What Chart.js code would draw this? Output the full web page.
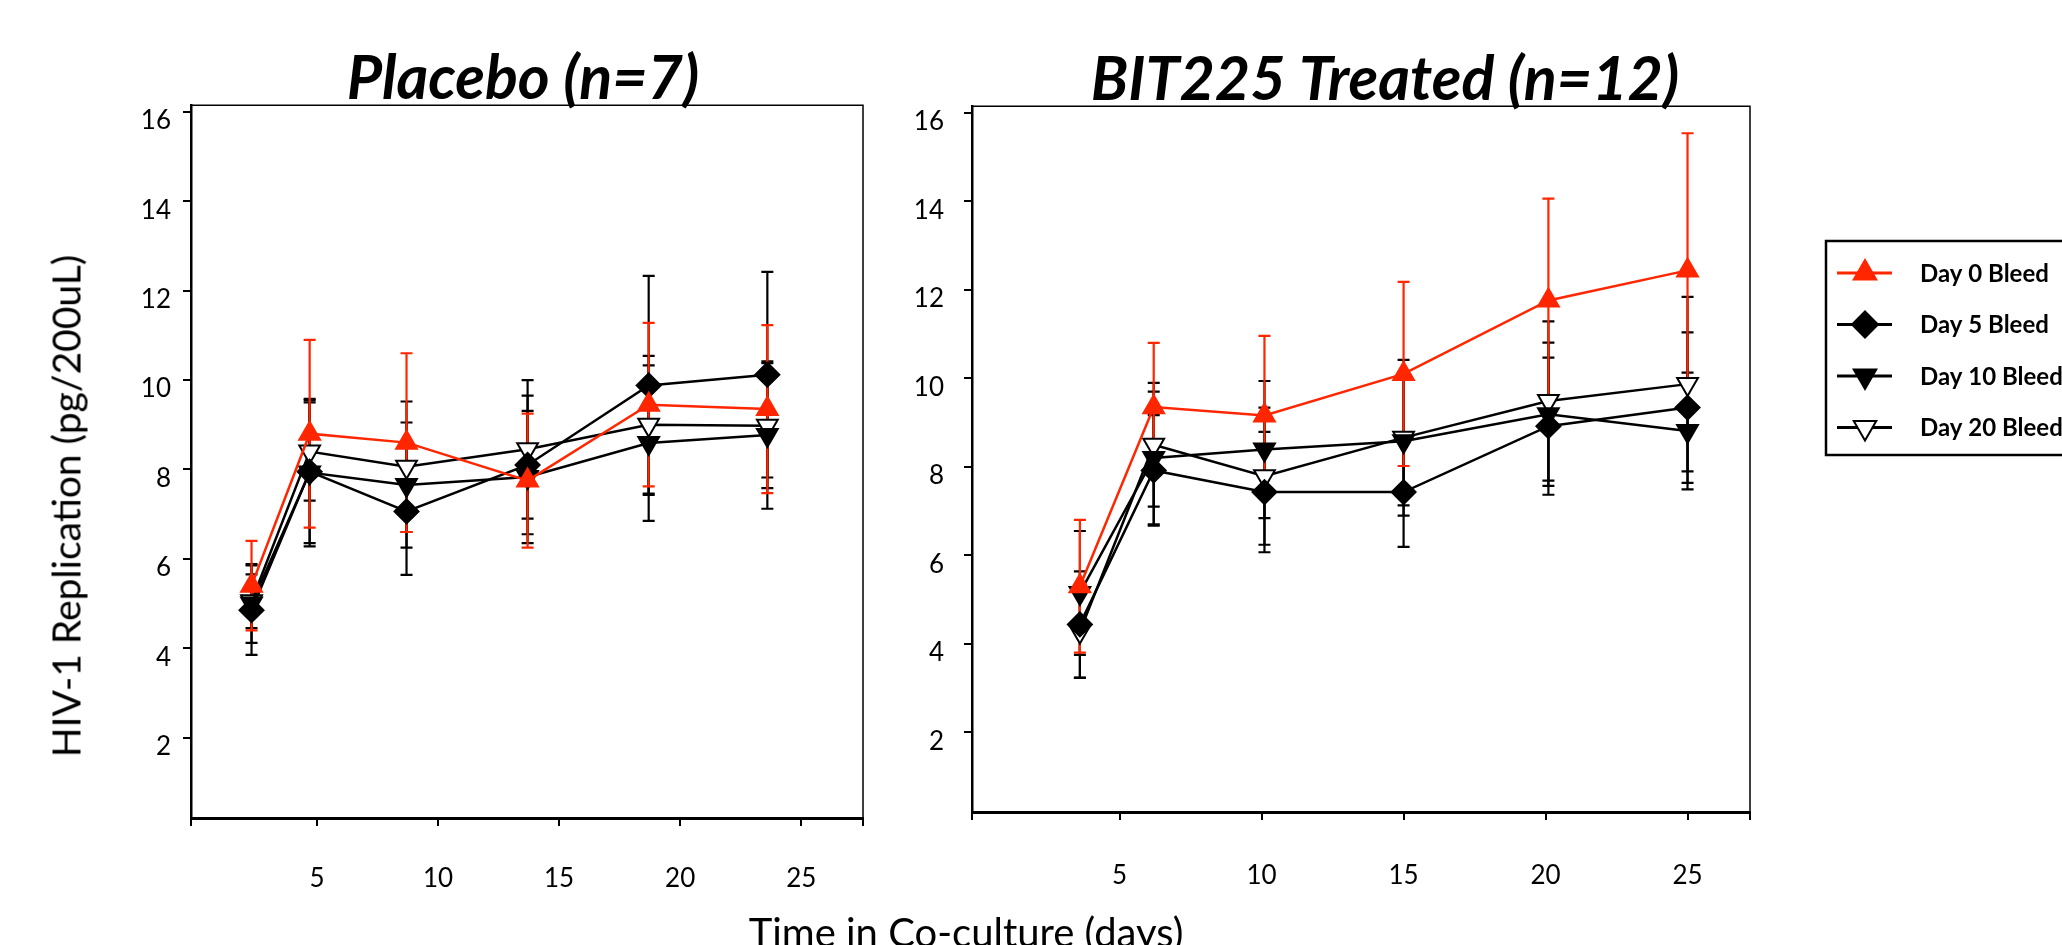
<!DOCTYPE html>
<html>
<head>
<meta charset="utf-8">
<title>HIV-1 Replication - Placebo vs BIT225</title>
<script src="https://cdn.jsdelivr.net/npm/chart.js@4/dist/chart.umd.min.js"></script>
<style>
    body { margin: 0; background: #fff; }
    #page { position: relative; width: 2062px; height: 945px; overflow: hidden; background: #fff; }
    canvas { position: absolute; top: 0; }
    #placeboChart { left: 0; }
    #treatedChart { left: 900px; }
    .axisTitle { position: absolute; font-family: Lato, sans-serif; color: #000; white-space: nowrap; line-height: 1; }
    #yTitle { left: 66px; top: 506px; font-size: 39px; transform: translate(-50%, -50%) rotate(-90deg); }
    #xTitle { left: 966px; top: 912px; font-size: 40px; transform: translateX(-50%); }
</style>
</head>
<body>
<div id="page">
    <canvas id="placeboChart" width="900" height="945"></canvas>
    <canvas id="treatedChart" width="1162" height="945"></canvas>
    <div id="yTitle" class="axisTitle">HIV-1 Replication (pg/200uL)</div>
    <div id="xTitle" class="axisTitle">Time in Co-culture (days)</div>
</div>
<script>
// Dias de co-cultivo de cada panel (eje x)
var placeboDays = [2.3, 4.7, 8.7, 13.7, 18.7, 23.6];
var treatedDays = [3.6, 6.2, 10.1, 15.0, 20.1, 25.0];

var seriesLabels = ['Day 0 Bleed', 'Day 5 Bleed', 'Day 10 Bleed', 'Day 20 Bleed'];

// Placebo (n=7): medias y error estandar
var placeboDay0 = [5.4, 8.8, 8.6, 7.75, 9.45, 9.35];
var placeboDay0Err = [1.0, 2.1, 2.0, 1.5, 1.83, 1.88];
var placeboDay5 = [4.85, 7.95, 7.06, 8.1, 9.88, 10.12];
var placeboDay5Err = [1.0, 1.6, 1.42, 1.55, 2.45, 2.3];
var placeboDay10 = [5.0, 7.93, 7.65, 7.83, 8.59, 8.77];
var placeboDay10Err = [0.88, 1.65, 1.4, 1.48, 1.74, 1.65];
var placeboDay20 = [5.05, 8.4, 8.06, 8.45, 9.0, 8.98];
var placeboDay20Err = [0.6, 1.1, 1.46, 1.55, 1.54, 1.4];

// BIT225 (n=12): medias y error estandar
var treatedDay0 = [5.3, 9.35, 9.16, 10.1, 11.76, 12.44];
var treatedDay0Err = [1.5, 1.45, 1.8, 2.08, 2.3, 3.1];
var treatedDay5 = [4.44, 7.92, 7.43, 7.43, 8.92, 9.34];
var treatedDay5Err = [1.2, 1.25, 1.36, 1.24, 1.55, 1.7];
var treatedDay10 = [5.15, 8.2, 8.39, 8.58, 9.19, 8.81];
var treatedDay10Err = [1.4, 1.5, 1.55, 1.45, 1.62, 1.32];
var treatedDay20 = [4.28, 8.5, 7.79, 8.66, 9.49, 9.87];
var treatedDay20Err = [1.05, 1.4, 1.55, 1.76, 1.8, 1.97];

// Etiquetas de los ejes y limites
var xTickLabels = [5, 10, 15, 20, 25];
var yTickLabels = [2, 4, 6, 8, 10, 12, 14, 16];
var placeboXRange = [-0.2, 27.55];
var treatedXRange = [-0.2, 27.2];
var yRange = [0.2, 16.15];

// Estilo de cada serie (color, marcador)
var seriesStyles = [
    { color: '#ff2600', fill: '#ff2600', shape: 'triangle', rotation: 0 },
    { color: '#000000', fill: '#000000', shape: 'rectRot', rotation: 0 },
    { color: '#000000', fill: '#000000', shape: 'triangle', rotation: 180 },
    { color: '#000000', fill: '#ffffff', shape: 'triangle', rotation: 180 }
];

// Construye los datasets de un panel
function buildDatasets(days, series, errors) {
    return series.map(function (values, s) {
        var st = seriesStyles[s];
        return {
            label: seriesLabels[s],
            data: days.map(function (d, i) { return { x: d, y: values[i] }; }),
            errors: errors[s],
            borderColor: st.color,
            borderWidth: 2.5,
            pointStyle: st.shape,
            pointRotation: st.rotation,
            pointRadius: 12,
            pointBackgroundColor: st.fill,
            pointBorderColor: st.color,
            pointBorderWidth: 2,
            tension: 0
        };
    });
}

// Escalas: rango x, ancho del eje y, alto del eje x y separacion de etiquetas
function buildScales(layout) {
    var xRange = layout.xRange;
    return {
        x: {
            type: 'linear',
            min: xRange[0],
            max: xRange[1],
            afterBuildTicks: function (scale) {
                scale.ticks = [xRange[0]].concat(xTickLabels, [xRange[1]]).map(function (v) { return { value: v }; });
            },
            afterFit: function (scale) { scale.height = layout.xHeight; },
            ticks: {
                callback: function (v) { return xTickLabels.indexOf(v) >= 0 ? String(v) : ''; },
                font: { family: 'Lato', size: 26 },
                color: '#000',
                padding: layout.xPad,
                maxRotation: 0,
                autoSkip: false
            },
            grid: { drawOnChartArea: false, color: '#000', lineWidth: 2, tickLength: 8 },
            border: { color: '#000', width: 3 }
        },
        y: {
            type: 'linear',
            min: yRange[0],
            max: yRange[1],
            afterBuildTicks: function (scale) {
                scale.ticks = yTickLabels.map(function (v) { return { value: v }; });
            },
            afterFit: function (scale) { scale.width = layout.yWidth; },
            ticks: {
                callback: function (v) { return String(v); },
                font: { family: 'Lato', size: 26 },
                color: '#000',
                padding: layout.yPad,
                labelOffset: 9,
                autoSkip: false
            },
            grid: { drawOnChartArea: false, color: '#000', lineWidth: 2, tickLength: 8 },
            border: { color: '#000', width: 2.5 }
        }
    };
}

// Plugin: marco fino y barras de error
var errorBarsPlugin = {
    id: 'errorBars',
    beforeDatasetsDraw: function (chart) {
        var ctx = chart.ctx;
        var area = chart.chartArea;
        var yScale = chart.scales.y;
        ctx.save();
        ctx.strokeStyle = '#000';
        ctx.lineWidth = 1.5;
        ctx.beginPath();
        ctx.moveTo(area.left, area.top);
        ctx.lineTo(area.right, area.top);
        ctx.lineTo(area.right, area.bottom);
        ctx.stroke();
        // de la ultima serie a la primera, asi el rojo queda encima
        for (var i = chart.data.datasets.length - 1; i >= 0; i--) {
            var ds = chart.data.datasets[i];
            var meta = chart.getDatasetMeta(i);
            ctx.strokeStyle = ds.borderColor;
            ctx.lineWidth = 2.2;
            meta.data.forEach(function (pt, j) {
                var v = ds.data[j].y;
                var e = ds.errors[j];
                var top = yScale.getPixelForValue(v + e);
                var bot = yScale.getPixelForValue(v - e);
                ctx.beginPath();
                ctx.moveTo(pt.x, top);
                ctx.lineTo(pt.x, bot);
                ctx.moveTo(pt.x - 6, top);
                ctx.lineTo(pt.x + 6, top);
                ctx.moveTo(pt.x - 6, bot);
                ctx.lineTo(pt.x + 6, bot);
                ctx.stroke();
            });
        }
        ctx.restore();
    }
};

// Plugin: desplaza el titulo en horizontal
var titleShiftPlugin = {
    id: 'titleShift',
    afterLayout: function (chart, args, opts) {
        var t = chart.titleBlock;
        if (t && opts.dx) {
            t.left += opts.dx;
            t.right += opts.dx;
        }
    }
};

// Dibuja un marcador igual al del dataset (para la leyenda)
function drawMarker(ctx, ds, x, y, r) {
    var rot = (ds.pointRotation || 0) * Math.PI / 180;
    ctx.beginPath();
    if (ds.pointStyle === 'rectRot') {
        ctx.moveTo(x, y - r);
        ctx.lineTo(x + r, y);
        ctx.lineTo(x, y + r);
        ctx.lineTo(x - r, y);
    } else {
        for (var k = 0; k < 3; k++) {
            var a = rot + k * 2 * Math.PI / 3;
            if (k === 0) ctx.moveTo(x + Math.sin(a) * r, y - Math.cos(a) * r);
            else ctx.lineTo(x + Math.sin(a) * r, y - Math.cos(a) * r);
        }
    }
    ctx.closePath();
    ctx.fillStyle = ds.pointBackgroundColor;
    ctx.fill();
    ctx.strokeStyle = ds.pointBorderColor;
    ctx.lineWidth = 2;
    ctx.stroke();
}

// Plugin: leyenda con recuadro a la derecha
var boxLegendPlugin = {
    id: 'boxLegend',
    afterDraw: function (chart, args, opts) {
        if (!opts.show) return;
        var ctx = chart.ctx;
        ctx.save();
        ctx.strokeStyle = '#000';
        ctx.lineWidth = 2.5;
        ctx.strokeRect(opts.left, opts.top, opts.width, opts.height);
        chart.data.datasets.forEach(function (ds, i) {
            var y = opts.top + opts.firstRow + i * opts.rowGap;
            ctx.strokeStyle = ds.borderColor;
            ctx.lineWidth = 3;
            ctx.beginPath();
            ctx.moveTo(opts.left + 11, y);
            ctx.lineTo(opts.left + 66, y);
            ctx.stroke();
            drawMarker(ctx, ds, opts.left + 39, y, 13);
            ctx.fillStyle = '#000';
            ctx.font = 'bold 24px Lato';
            ctx.textBaseline = 'middle';
            ctx.fillText(ds.label, opts.left + 94, y + 1);
        });
        ctx.restore();
    }
};

// Crea un panel
function makePanel(canvasId, title, datasets, layout, legend) {
    return new Chart(document.getElementById(canvasId), {
        type: 'line',
        data: { datasets: datasets },
        options: {
            responsive: false,
            animation: false,
            devicePixelRatio: 1,
            layout: { padding: { left: 0, right: layout.right, top: 0, bottom: 0 } },
            scales: buildScales(layout),
            plugins: {
                legend: { display: false },
                tooltip: { enabled: false },
                title: {
                    display: true,
                    text: title,
                    fullSize: false,
                    color: '#000',
                    font: { family: 'Lato', size: 61, weight: 'bold', style: 'italic', lineHeight: 0.84 },
                    padding: { top: layout.titleTop, bottom: 0 }
                },
                titleShift: { dx: layout.titleDx },
                boxLegend: legend
            }
        },
        plugins: [errorBarsPlugin, titleShiftPlugin, boxLegendPlugin]
    });
}

function drawCharts() {
    makePanel('placeboChart', 'Placebo (n=7)',
        buildDatasets(placeboDays,
            [placeboDay0, placeboDay5, placeboDay10, placeboDay20],
            [placeboDay0Err, placeboDay5Err, placeboDay10Err, placeboDay20Err]),
        { xRange: placeboXRange, right: 34, yWidth: 191, yPad: 12, xHeight: 127, xPad: 37, titleTop: 54, titleDx: -4 },
        { show: false });

    makePanel('treatedChart', 'BIT225 Treated (n=12)',
        buildDatasets(treatedDays,
            [treatedDay0, treatedDay5, treatedDay10, treatedDay20],
            [treatedDay0Err, treatedDay5Err, treatedDay10Err, treatedDay20Err]),
        { xRange: treatedXRange, right: 312, yWidth: 72, yPad: 20, xHeight: 133, xPad: 40, titleTop: 55, titleDx: 24 },
        { show: true, left: 926, top: 241, width: 300, height: 214, firstRow: 32, rowGap: 51.5 });
}

// Esperamos a las fuentes antes de dibujar
Promise.all([
    document.fonts.load('italic bold 61px Lato'),
    document.fonts.load('26px Lato'),
    document.fonts.load('bold 24px Lato')
]).then(drawCharts, drawCharts);
</script>
</body>
</html>
